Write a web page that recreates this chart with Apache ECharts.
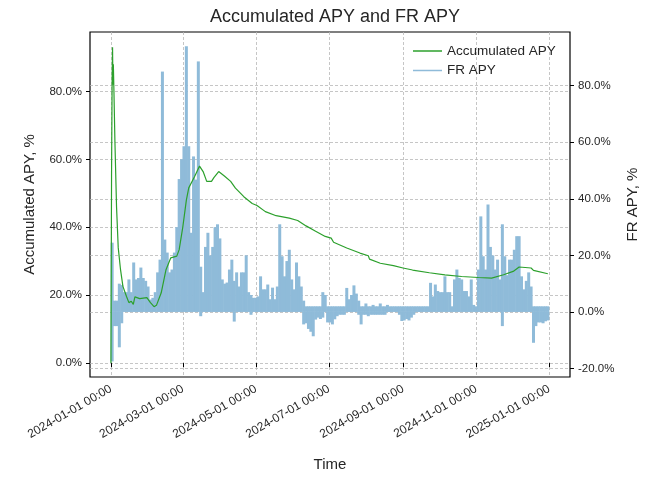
<!DOCTYPE html>
<html>
<head>
<meta charset="utf-8">
<script src="https://cdn.jsdelivr.net/npm/echarts@6/dist/echarts.min.js"></script>
<style>
html, body {margin: 0; padding: 0; background: #fff}
#chart {width: 649px; height: 477px}
</style>
</head>
<body>
<div id="chart"></div>
<script>
// FR APY, one value every 2 days from frStart (upper envelope and negative dips)
var frStart = '2024-01-01'
var frStepDays = 2
var frHigh = [
  24.5, 4, 4, 10, 9.5, 7, 7, 11.5, 7, 17.5,
  11.5, 12, 15.7, 12, 11, 9, 4.4, 5, 7, 14,
  18.5, 85, 25.6, 21, 14, 15, 21, 30, 47, 54,
  58.6, 94, 58.6, 28, 55, 46.8, 88.6, 16, 7, 23,
  28, 20, 23, 30, 31, 26, 11.5, 10, 10.4, 15,
  18.5, 11, 14, 9, 14, 14, 20, 7, 6, 5,
  5, 5.5, 12.6, 8, 8, 9.7, 4.5, 8.6, 4.5, 9,
  31, 19.7, 12.6, 18, 22, 11.5, 8, 17.5, 12.6, 9,
  4, 2, 2, 2, 2, 2, 2, 2, 7, 6,
  2, 2, 2, 2, 2, 2, 2, 2, 8.5, 4.5,
  6, 9.4, 6.5, 4, 2, 2, 3, 2, 2, 2.5,
  2, 2, 3, 2, 2, 2.5, 2, 2, 2, 2,
  2, 2, 2, 2, 2, 2, 2, 2, 2, 2,
  2, 2, 2, 10.3, 5.5, 9.7, 7.4, 7, 7, 12.6,
  7, 7, 2, 11.5, 15, 12, 11.5, 7.4, 7.4, 5.5,
  11.5, 2.5, 2, 15, 33.8, 19.7, 15, 38, 23, 20,
  15, 18.5, 11.5, 31, 19.7, 13, 18.5, 18.5, 22, 26.8,
  26.8, 12.6, 8, 11, 14, 9, 2, 2, 2, 2,
  2, 2, 2
]
var frLow = [
  -17.5, -5, -5, -12.5, -4, 0, 0, 0, 0, 0,
  0, 0, 0, 0, 0, 0, 0, 0, 0, 0,
  0, 0, 0, 0, 0, 0, 0, 0, 0, 0,
  0, 0, 0, 0, 0, 0, 0, -1.5, 0, 0,
  0, 0, 0, 0, 0, 0, 0, 0, 0, 0,
  0, -3.4, 0, 0, 0, 0, 0, 0, -1, 0,
  0, 0, 0, 0, 0, 0, 0, 0, 0, 0,
  0, 0, 0, 0, 0, 0, 0, 0, 0, 0,
  -4.4, -4, -6, -7, -8.6, -2.7, -2, -2.5, -2, 0,
  -3.7, -3.7, -4.4, -2.6, -1.5, -1, -1, -1, 0, 0,
  0, 0, 0, -1, -4.4, -1, -1, -1.5, -1, -1,
  -1, -1, -1, -1, -1, 0, 0, 0, 0, 0,
  -1, -3.2, -3, -2.5, -3, -2, -1, 0, 0, 0,
  0, 0, 0, 0, 0, 0, 0, 0, 0, 0,
  0, 0, 0, 0, 0, 0, 0, 0, 0, 0,
  0, 0, 0, 0, 0, 0, 0, 0, 0, 0,
  0, 0, 0, -5, 0, 0, 0, 0, 0, 0,
  0, 0, 0, 0, 0, 0, -10.9, -5, -3.7, -3.7,
  -4, -3.3, -3
]

var accDates = [
  '2024-01-01 00:00', '2024-01-01 12:00', '2024-01-02 00:00', '2024-01-02 08:00', '2024-01-02 16:00',
  '2024-01-03 00:00', '2024-01-03 12:00', '2024-01-04 08:00', '2024-01-05 16:00', '2024-01-07 02:00',
  '2024-01-09', '2024-01-11', '2024-01-14', '2024-01-16', '2024-01-18',
  '2024-01-19 16:00', '2024-01-21', '2024-01-25', '2024-01-31', '2024-02-03',
  '2024-02-06', '2024-02-08', '2024-02-12', '2024-02-16', '2024-02-20',
  '2024-02-25', '2024-02-27', '2024-03-01', '2024-03-04', '2024-03-06',
  '2024-03-11', '2024-03-15', '2024-03-18', '2024-03-21', '2024-03-25',
  '2024-03-27', '2024-03-31', '2024-04-05', '2024-04-10', '2024-04-14',
  '2024-04-21', '2024-04-28', '2024-05-02', '2024-05-09', '2024-05-18',
  '2024-05-29', '2024-06-05', '2024-06-12', '2024-06-20', '2024-06-28',
  '2024-07-03', '2024-07-05', '2024-07-16', '2024-07-27', '2024-08-03',
  '2024-08-04', '2024-08-13', '2024-08-24', '2024-09-01', '2024-09-09',
  '2024-09-23', '2024-10-06', '2024-10-20', '2024-11-03', '2024-11-14',
  '2024-11-24', '2024-12-02', '2024-12-07', '2024-12-17', '2024-12-19',
  '2024-12-31'
]
var accValues = [
  0, 55, 84, 93, 82,
  88, 80, 65, 46, 34,
  27.5, 22.6, 19.6, 17.8, 18.2,
  17.3, 19.5, 19, 19.3, 17.8,
  16.6, 17, 20.7, 27.5, 31,
  31.5, 33.4, 40, 48, 51.6,
  55, 58, 56.4, 53.5, 53.5,
  54.6, 56.4, 55, 53.5, 51.5,
  49, 47, 46.4, 44.6, 43.4,
  42.7, 42, 40.4, 38.8, 37.3,
  36.8, 35.6, 33.9, 32.4, 31.6,
  30.6, 29.4, 28.7, 28, 27.4,
  26.6, 26, 25.5, 25.2, 25,
  26, 27, 28.3, 28, 27.3,
  26.3
]

var xTicks = ['2024-01-01', '2024-03-01', '2024-05-01', '2024-07-01', '2024-09-01', '2024-11-01', '2025-01-01']
var leftTicks = [0, 20, 40, 60, 80]
var rightTicks = [-20, 0, 20, 40, 60, 80]

var DAY = 86400000
var toTime = function (s) { return echarts.time.parse(s).getTime() }
var t0 = toTime(frStart)
var frHighData = frHigh.map(function (v, i) { return [t0 + (i * frStepDays + frStepDays / 2) * DAY, v] })
var frLowData = frLow.map(function (v, i) { return [t0 + (i * frStepDays + frStepDays / 2) * DAY, v] })
var accData = accDates.map(function (d, i) { return [toTime(d), accValues[i]] })
var xTickTimes = xTicks.map(toTime)

var font = 'Liberation Sans'
var txt = '#262626'
var gridLine = {show: true, lineStyle: {color: '#b8b8b8', type: [3, 2], width: 0.8}}
var pct = function (v) { return v.toFixed(1) + '%' }

var chart = echarts.init(document.getElementById('chart'), null, {renderer: 'canvas'})
chart.setOption({
  animation: false,
  textStyle: {fontFamily: font},
  title: {
    text: 'Accumulated APY and FR APY', left: 330, top: 3, textAlign: 'center',
    textStyle: {fontFamily: font, fontSize: 18, fontWeight: 'normal', color: txt}
  },
  legend: {
    orient: 'vertical', left: 408, top: 38, itemWidth: 29, itemHeight: 1.5, itemGap: 3.5,
    textStyle: {fontFamily: font, fontSize: 13.5, color: txt, lineHeight: 16},
    data: [{name: 'Accumulated APY', icon: 'rect'}, {name: 'FR APY', icon: 'rect'}]
  },
  grid: {left: 90, right: 79, top: 32, bottom: 100, show: true, borderColor: '#000', borderWidth: 1.2, backgroundColor: 'transparent'},
  xAxis: {
    type: 'value',
    min: toTime('2024-01-01') - 17.5 * DAY,
    max: toTime('2025-01-01') + 17.5 * DAY,
    name: 'Time', nameLocation: 'middle', nameGap: 80,
    nameTextStyle: {fontFamily: font, fontSize: 15, color: txt},
    axisLine: {show: false},
    axisTick: {show: true, length: 4, customValues: xTickTimes, lineStyle: {color: '#000'}},
    axisLabel: {
      customValues: xTickTimes, rotate: 30, margin: 11, fontFamily: font, fontSize: 12, color: txt,
      formatter: function (v) { return echarts.time.format(v, '{yyyy}-{MM}-{dd} {HH}:{mm}', false) }
    },
    splitLine: gridLine
  },
  yAxis: [{
    type: 'value', position: 'left', min: -4.1, max: 97.5,
    name: 'Accumulated APY, %', nameLocation: 'middle', nameGap: 53, nameRotate: 90,
    nameTextStyle: {fontFamily: font, fontSize: 15, color: txt},
    axisLine: {show: false},
    axisTick: {show: true, length: 4, customValues: leftTicks, lineStyle: {color: '#000'}},
    axisLabel: {customValues: leftTicks, margin: 8, fontFamily: font, fontSize: 11.5, color: txt, formatter: pct},
    splitLine: gridLine
  }, {
    type: 'value', position: 'right', min: -23, max: 99,
    name: 'FR APY, %', nameLocation: 'middle', nameGap: 53, nameRotate: 90,
    nameTextStyle: {fontFamily: font, fontSize: 15, color: txt},
    axisLine: {show: false},
    axisTick: {show: true, length: 4, customValues: rightTicks, lineStyle: {color: '#000'}},
    axisLabel: {customValues: rightTicks, margin: 8, fontFamily: font, fontSize: 11.5, color: txt, formatter: pct},
    splitLine: gridLine
  }],
  series: [
    {name: 'Accumulated APY', type: 'line', yAxisIndex: 0, data: accData, symbol: 'none', color: '#2ca02c', lineStyle: {width: 1.2}, z: 4},
    {name: 'FR APY', type: 'bar', yAxisIndex: 1, data: frHighData, barWidth: 3, barGap: '-100%', color: '#8fbbd9', z: 3},
    {name: 'FR APY', type: 'bar', yAxisIndex: 1, data: frLowData, barWidth: 3, barGap: '-100%', color: '#8fbbd9', z: 3}
  ]
})
</script>
</body>
</html>
